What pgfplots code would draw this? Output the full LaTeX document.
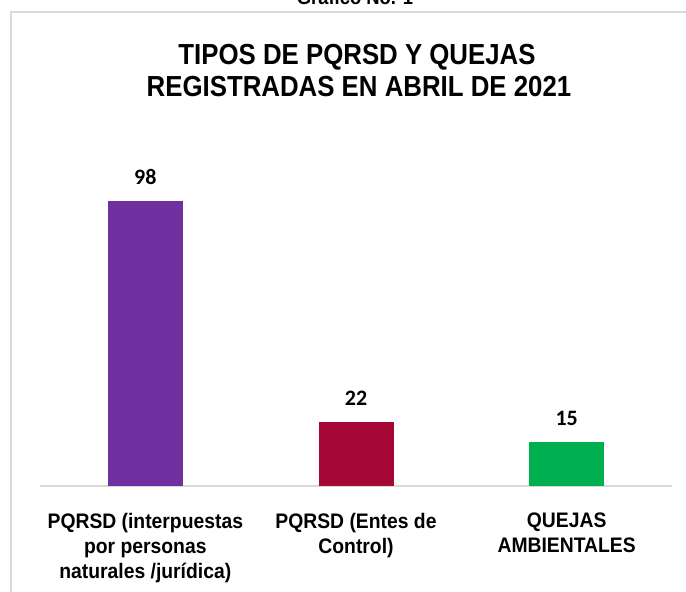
\documentclass[border=0pt]{standalone}
\usepackage{pgfplots}
\pgfplotsset{compat=1.18}
\usepackage{fontspec}
\setmainfont{Liberation Sans}
\newfontfamily\titlefont[FakeStretch=0.89]{Liberation Sans Bold}
\newfontfamily\labelfont[FakeStretch=0.92]{Liberation Sans Bold}
\newfontfamily\numfont{Carlito Bold}
\definecolor{cpurple}{HTML}{7030A0}
\definecolor{ccrimson}{HTML}{A50835}
\definecolor{cgreen}{HTML}{00B050}
\definecolor{framegray}{HTML}{D9D9D9}
\begin{document}
\begin{tikzpicture}[x=1pt,y=1pt]
\clip (0,0) rectangle (686,592);
\draw[line width=1.5pt, framegray] (11,-5) -- (11,580) -- (700,580);
\node[anchor=base, inner sep=0pt, font=\labelfont\fontsize{20}{24}\selectfont] at (355,587) {Gráfico No. 1};
\node[anchor=base, inner sep=0pt, font=\titlefont\fontsize{29}{32}\selectfont] at (357,527) {TIPOS DE PQRSD Y QUEJAS};
\node[anchor=base, inner sep=0pt, font=\titlefont\fontsize{29}{32}\selectfont] at (359,495) {REGISTRADAS EN ABRIL DE 2021};
\begin{axis}[
  at={(40pt,106pt)}, anchor=south west,
  scale only axis, width=632pt, height=290.8pt,
  xmin=-0.5, xmax=2.5, ymin=0, ymax=100,
  ybar, bar width=75pt, bar shift=0pt,
  hide y axis,
  axis x line*=bottom,
  x axis line style={draw=framegray, line width=1.5pt},
  xtick={0,1,2},
  xticklabels={{PQRSD (interpuestas\\por personas\\naturales /jurídica)},{PQRSD (Entes de\\Control)},{QUEJAS\\AMBIENTALES}},
  major tick length=0pt,
  xticklabel style={font=\labelfont\fontsize{21}{25}\selectfont, align=center, anchor=north, inner sep=0pt, yshift=-27pt},
  /pgf/number format/assume math mode=true,
  nodes near coords,
  every node near coord/.append style={font=\numfont\fontsize{22}{26}\selectfont, anchor=base, inner sep=0pt, yshift=17pt, black},
  clip=false,
]
\addplot[draw=none, fill=cpurple] coordinates {(0,98)};
\addplot[draw=none, fill=ccrimson] coordinates {(1,22)};
\addplot[draw=none, fill=cgreen] coordinates {(2,15)};
\end{axis}
\end{tikzpicture}
\end{document}
